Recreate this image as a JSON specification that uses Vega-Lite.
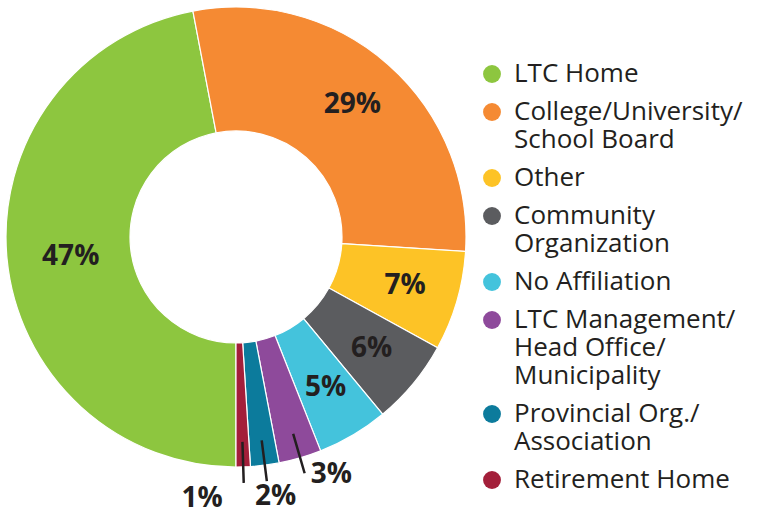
{
  "$schema": "https://vega.github.io/schema/vega-lite/v6.json",
  "width": 472,
  "height": 474,
  "autosize": "none",
  "padding": {"left": 0, "top": 0, "right": 291, "bottom": 38},
  "background": "white",
  "config": {"view": {"stroke": null}, "font": "Open Sans", "style": {"guide-label": {"lineHeight": 28}}},
  "data": {
    "values": [
      {"category": "LTC Home", "value": 47},
      {"category": "College/University/|School Board", "value": 29},
      {"category": "Other", "value": 7},
      {"category": "Community|Organization", "value": 6},
      {"category": "No Affiliation", "value": 5},
      {"category": "LTC Management/|Head Office/|Municipality", "value": 3},
      {"category": "Provincial Org./|Association", "value": 2},
      {"category": "Retirement Home", "value": 1}
    ]
  },
  "transform": [{"calculate": "datum.value + '%'", "as": "pct"}],
  "encoding": {
    "theta": {"field": "value", "type": "quantitative", "stack": true, "scale": {"range": [3.14159, 9.42478]}},
    "order": {"field": "value", "type": "quantitative", "sort": "descending"}
  },
  "layer": [
    {
      "mark": {"type": "arc", "outerRadius": 230, "innerRadius": 106, "stroke": "white", "strokeWidth": 1.2},
      "encoding": {
        "color": {
          "field": "category",
          "type": "nominal",
          "scale": {
            "domain": ["LTC Home", "College/University/|School Board", "Other", "Community|Organization", "No Affiliation", "LTC Management/|Head Office/|Municipality", "Provincial Org./|Association", "Retirement Home"],
            "range": ["#8dc63f", "#f58a33", "#fdc326", "#5b5c5f", "#44c3dc", "#8e4a9b", "#0c7b9c", "#a31f3a"]
          },
          "legend": {
            "title": null,
            "orient": "none",
            "legendX": 479,
            "legendY": 61,
            "padding": 0,
            "symbolType": "circle",
            "symbolSize": 320,
            "symbolStrokeWidth": 0,
            "labelFont": "Open Sans",
            "labelFontSize": 26,
            "labelColor": "#231f20",
            "labelLimit": 400,
            "labelOffset": 9,
            "labelExpr": "split(datum.label, '|')",
            "rowPadding": 12,
            "encode": {"labels": {"update": {"lineHeight": {"value": 28}}}}
          }
        }
      }
    },
    {
      "mark": {"type": "arc", "outerRadius": 246, "innerRadius": 205, "padAngle": 1, "fillOpacity": 0, "strokeWidth": 2.5, "strokeCap": "round"},
      "encoding": {
        "stroke": {"condition": {"test": "datum.value < 5", "value": "#231f20"}, "value": "transparent"}
      }
    },
    {
      "mark": {"type": "text", "radius": 176, "font": "Open Sans", "fontWeight": "bold", "fontSize": 28, "color": "#231f20", "baseline": "middle", "align": "center"},
      "encoding": {
        "text": {"condition": {"test": "datum.value >= 5 && datum.value < 40", "field": "pct"}, "value": ""}
      }
    },
    {
      "mark": {"type": "text", "radius": 166, "dy": 4, "font": "Open Sans", "fontWeight": "bold", "fontSize": 28, "color": "#231f20", "baseline": "middle", "align": "center"},
      "encoding": {
        "text": {"condition": {"test": "datum.value >= 40", "field": "pct"}, "value": ""}
      }
    },
    {
      "mark": {"type": "text", "radius": 252, "dx": 25, "dy": -4, "font": "Open Sans", "fontWeight": "bold", "fontSize": 28, "color": "#231f20", "baseline": "middle", "align": "center"},
      "encoding": {
        "text": {"condition": {"test": "datum.value == 3", "field": "pct"}, "value": ""}
      }
    },
    {
      "mark": {"type": "text", "radius": 260, "dx": 7, "dy": 2, "font": "Open Sans", "fontWeight": "bold", "fontSize": 28, "color": "#231f20", "baseline": "middle", "align": "center"},
      "encoding": {
        "text": {"condition": {"test": "datum.value == 2", "field": "pct"}, "value": ""}
      }
    },
    {
      "mark": {"type": "text", "radius": 260, "dx": -42, "dy": 2, "font": "Open Sans", "fontWeight": "bold", "fontSize": 28, "color": "#231f20", "baseline": "middle", "align": "center"},
      "encoding": {
        "text": {"condition": {"test": "datum.value == 1", "field": "pct"}, "value": ""}
      }
    }
  ]
}
